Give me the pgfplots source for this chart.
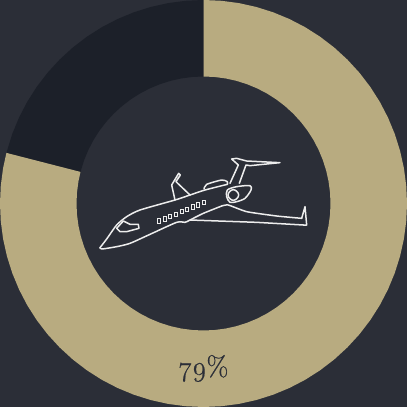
\documentclass[border=0pt]{standalone}
\usepackage{pgfplots}
\pgfplotsset{compat=1.18}
\usepackage{fontspec}
\setmainfont{Latin Modern Roman}[Numbers=OldStyle]
\definecolor{bg}{HTML}{2B2E37}
\definecolor{tan}{HTML}{B8AB80}
\definecolor{dark}{HTML}{1C2029}
\definecolor{planeline}{HTML}{EDEDED}
\pgfplotsset{
  layer/.style={width=407pt,height=407pt,scale only axis,hide axis,at={(0,0)},anchor=south west},
  pl/.style={planeline,line width=1.5pt,line join=round,line cap=round},
}
\begin{document}
\begin{tikzpicture}
% donut: angle in degrees, radius in px from the centre
\begin{axis}[layer,xmin=-203.5,xmax=203.5,ymin=-203.5,ymax=203.5]
  \addplot[fill=bg,draw=none] coordinates {(-203.5,-203.5) (203.5,-203.5) (203.5,203.5) (-203.5,203.5)} -- cycle;
  % 21%
  \addplot[fill=dark,draw=none,data cs=polar] coordinates {
    (165.6,203.5) (160,203.5) (155,203.5) (150,203.5) (145,203.5) (140,203.5) (135,203.5) (130,203.5)
    (125,203.5) (120,203.5) (115,203.5) (110,203.5) (105,203.5) (100,203.5) (95,203.5) (90,203.5)
    (90,127) (95,127) (100,127) (105,127) (110,127) (115,127) (120,127) (125,127) (130,127) (135,127)
    (140,127) (145,127) (150,127) (155,127) (160,127) (165.6,127)} -- cycle;
  % 79%
  \addplot[fill=tan,draw=none,data cs=polar] coordinates {
    (90,203.5) (85,203.5) (80,203.5) (75,203.5) (70,203.5) (65,203.5) (60,203.5) (55,203.5) (50,203.5)
    (45,203.5) (40,203.5) (35,203.5) (30,203.5) (25,203.5) (20,203.5) (15,203.5) (10,203.5) (5,203.5)
    (0,203.5) (-5,203.5) (-10,203.5) (-15,203.5) (-20,203.5) (-25,203.5) (-30,203.5) (-35,203.5)
    (-40,203.5) (-45,203.5) (-50,203.5) (-55,203.5) (-60,203.5) (-65,203.5) (-70,203.5) (-75,203.5)
    (-80,203.5) (-85,203.5) (-90,203.5) (-95,203.5) (-100,203.5) (-105,203.5) (-110,203.5) (-115,203.5)
    (-120,203.5) (-125,203.5) (-130,203.5) (-135,203.5) (-140,203.5) (-145,203.5) (-150,203.5)
    (-155,203.5) (-160,203.5) (-165,203.5) (-170,203.5) (-175,203.5) (-180,203.5) (-185,203.5)
    (-190,203.5) (-194.4,203.5)
    (-194.4,127) (-190,127) (-185,127) (-180,127) (-175,127) (-170,127) (-165,127) (-160,127) (-155,127)
    (-150,127) (-145,127) (-140,127) (-135,127) (-130,127) (-125,127) (-120,127) (-115,127) (-110,127)
    (-105,127) (-100,127) (-95,127) (-90,127) (-85,127) (-80,127) (-75,127) (-70,127) (-65,127) (-60,127)
    (-55,127) (-50,127) (-45,127) (-40,127) (-35,127) (-30,127) (-25,127) (-20,127) (-15,127) (-10,127)
    (-5,127) (0,127) (5,127) (10,127) (15,127) (20,127) (25,127) (30,127) (35,127) (40,127) (45,127)
    (50,127) (55,127) (60,127) (65,127) (70,127) (75,127) (80,127) (85,127) (90,127)} -- cycle;
  \node[text=bg,font=\fontsize{28}{28}\selectfont\addfontfeature{FakeBold=0.6},anchor=base] at (axis cs:0,-172.5) {79\%};
\end{axis}
% plane, traced in the coordinates of a 3x crop
\begin{axis}[layer,xmin=-270,xmax=951,ymin=-435,ymax=786,y dir=reverse]
  % fuselage top
  \addplot[pl,smooth,tension=0.4] coordinates {(30,308) (50,282) (80,240) (110,215) (150,195) (255,165) (300,150) (345,135) (412,118)};
  % fuselage belly
  \addplot[pl,smooth,tension=0.4] coordinates {(30,308) (36,312) (80,305) (120,295) (180,268) (260,232) (285,232) (300,225) (340,205) (395,183)};
  % cockpit
  \addplot[pl] coordinates {(80,250) (100,228) (120,238) (145,238) (147,250) (110,260) (90,260) (80,250)};
  % near-side fin
  \addplot[pl] coordinates {(255,165) (245,120) (266,85) (271,90) (258,110) (300,150)};
  % dorsal fairing
  \addplot[pl,smooth,tension=0.4] coordinates {(342,132) (350,118) (395,105) (412,110) (412,118)};
  % tail
  \addplot[pl] coordinates {(420,115) (445,60) (425,42) (440,40) (470,48) (570,53) (480,62) (468,60) (448,115)};
  % engine
  \addplot[pl,smooth cycle,tension=0.5] coordinates {(412,135) (440,125) (480,122) (483,135) (465,160) (440,170) (420,172) (410,155)};
  \addplot[pl,smooth cycle,tension=0.8] coordinates {(430,134) (446,150) (430,166) (414,150)};
  % wing
  \addplot[pl,smooth,tension=0.3] coordinates {(395,183) (415,180) (470,200) (560,213) (635,220)};
  \addplot[pl] coordinates {(635,220) (645,185) (650,240) (640,240)};
  \addplot[pl] coordinates {(640,240) (500,232) (300,225)};
  % windows
  \addplot[only marks,mark=square,mark size=1.8pt,mark options={planeline,line width=1pt,xscale=0.8,yscale=1.2,rounded corners=0.5pt}] coordinates {
    (207,228) (224,222) (241,215) (258,208) (275,200) (292,193) (308,186) (325,180) (342,173)};
\end{axis}
\end{tikzpicture}
\end{document}
